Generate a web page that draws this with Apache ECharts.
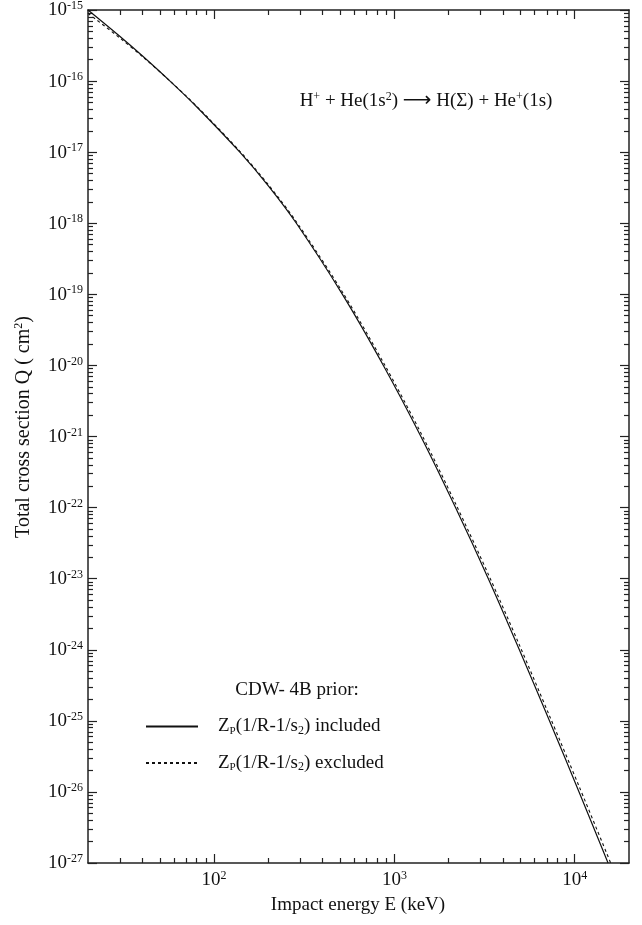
<!DOCTYPE html>
<html>
<head>
<meta charset="utf-8">
<script src="https://cdn.jsdelivr.net/npm/echarts@6/dist/echarts.min.js"></script>
<style>
html,body{margin:0;padding:0;background:#fff;}
#chart{width:642px;height:925px;}
</style>
</head>
<body>
<div id="chart"></div>
<script>
// ---- data ----
const xMajorTicks = [100, 1000, 10000];
const yMajorTicks = [1e-27, 1e-26, 1e-25, 1e-24, 1e-23, 1e-22, 1e-21, 1e-20, 1e-19, 1e-18, 1e-17, 1e-16, 1e-15];

// Z_P(1/R-1/s2) included (solid)
const solidE = [20, 30, 40, 57, 80, 139, 200, 286, 515, 869, 1403, 2183, 3319, 4932, 7244, 10570, 15310];
const solidQ = [1.0e-15, 4.27e-16, 2.27e-16, 1.0e-16, 4.36e-17, 1.0e-17, 3.36e-18, 1.0e-18, 1.0e-19, 1.0e-20, 1.0e-21, 1.0e-22, 1.0e-23, 1.0e-24, 1.0e-25, 1.0e-26, 1.0e-27];

// Z_P(1/R-1/s2) excluded (dotted)
const dashedE = [20, 30, 40, 57, 80, 139, 200, 286, 515, 869, 1403, 2183, 3319, 4932, 7244, 10570, 15830];
const dashedQ = [0.9e-15, 4.05e-16, 2.22e-16, 1.0e-16, 4.45e-17, 1.03e-17, 3.49e-18, 1.05e-18, 1.08e-19, 1.1e-20, 1.12e-21, 1.14e-22, 1.15e-23, 1.17e-24, 1.18e-25, 1.2e-26, 1.0e-27];

const seriesNames = ['included', 'excluded'];

// ---- derived ----
function minorOf(lo, hi) {
  const out = [];
  const start = Math.floor(Math.log10(lo) + 1e-9);
  const end = Math.ceil(Math.log10(hi) - 1e-9);
  for (let p = start; p < end; p++) {
    for (let m = 2; m <= 9; m++) {
      const v = m * Math.pow(10, p);
      if (v > lo * 1.0001 && v < hi * 0.9999) out.push(v);
    }
  }
  return out;
}
const X_MIN = 20, X_MAX = 20000, Y_MIN = 1e-27, Y_MAX = 1e-15;
const xMinorTicks = minorOf(X_MIN, X_MAX);
const yMinorTicks = minorOf(Y_MIN, Y_MAX);

const SERIF = 'Liberation Serif, Times New Roman, serif';
const FS = 19, FSS = 12;
const AX = '#222';
const powRich = {
  b: { fontFamily: SERIF, fontSize: FS, color: '#111', lineHeight: 20, verticalAlign: 'bottom' },
  s: { fontFamily: SERIF, fontSize: FSS, color: '#111', lineHeight: 13, verticalAlign: 'top' }
};
function powFmt(v) {
  const e = Math.round(Math.log10(v));
  return '{b|10}{s|' + e + '}';
}

function xAxisDef(pos, ticks, len, showLine, showLabel) {
  return {
    type: 'log', logBase: 10, min: X_MIN, max: X_MAX, position: pos, gridIndex: 0,
    axisLine: { show: showLine, onZero: false, lineStyle: { color: AX, width: 1.5 } },
    axisTick: { show: true, inside: true, length: len, customValues: ticks, lineStyle: { color: AX, width: 1.2 } },
    axisLabel: showLabel ? { show: true, customValues: ticks, formatter: powFmt, rich: powRich, margin: 7 } : { show: false },
    splitLine: { show: false }, minorTick: { show: false }
  };
}
function yAxisDef(pos, ticks, len, showLine, showLabel) {
  return {
    type: 'log', logBase: 10, min: Y_MIN, max: Y_MAX, position: pos, gridIndex: 0,
    axisLine: { show: showLine, onZero: false, lineStyle: { color: AX, width: 1.5 } },
    axisTick: { show: true, inside: true, length: len, customValues: ticks, lineStyle: { color: AX, width: 1.2 } },
    axisLabel: showLabel ? { show: true, customValues: ticks, formatter: powFmt, rich: powRich, margin: 5 } : { show: false },
    splitLine: { show: false }, minorTick: { show: false }
  };
}

const legendRich = {
  n: { fontFamily: SERIF, fontSize: FS, color: '#111', lineHeight: 20, verticalAlign: 'middle' },
  p: { fontFamily: SERIF, fontSize: 11, color: '#111', lineHeight: 13, verticalAlign: 'bottom' },
  sub: { fontFamily: SERIF, fontSize: FSS, color: '#111', lineHeight: 12, verticalAlign: 'bottom' }
};

const chart = echarts.init(document.getElementById('chart'), null, { renderer: 'canvas' });
chart.setOption({
  animation: false,
  backgroundColor: '#fff',
  grid: { left: 88, right: 13, top: 10, bottom: 62, containLabel: false },
  xAxis: [
    xAxisDef('bottom', xMajorTicks, 9, true, true),
    xAxisDef('bottom', xMinorTicks, 5, false, false),
    xAxisDef('top', xMajorTicks, 9, true, false),
    xAxisDef('top', xMinorTicks, 5, false, false)
  ],
  yAxis: [
    yAxisDef('left', yMajorTicks, 9, true, true),
    yAxisDef('left', yMinorTicks, 5, false, false),
    yAxisDef('right', yMajorTicks, 9, true, false),
    yAxisDef('right', yMinorTicks, 5, false, false)
  ],
  legend: {
    orient: 'vertical', left: 140, top: 712, itemGap: 17, itemWidth: 52, itemHeight: 14,
    data: seriesNames,
    itemStyle: { opacity: 0 },
    formatter: function (name) {
      return name === 'included'
        ? '{n|Z}{p|P}{n|(1/R-1/s}{sub|2}{n|) included}'
        : '{n|Z}{p|P}{n|(1/R-1/s}{sub|2}{n|) excluded}';
    },
    textStyle: { rich: legendRich, padding: [0, 0, 0, 15] }
  },
  graphic: [
    {
      type: 'text', x: 23, y: 427, rotation: Math.PI / 2,
      style: {
        text: '{n|Total cross section Q ( cm}{s|2}{n|)}',
        align: 'center', verticalAlign: 'middle',
        rich: {
          n: { fontFamily: SERIF, fontSize: 20, fill: '#111', lineHeight: 21, verticalAlign: 'bottom' },
          s: { fontFamily: SERIF, fontSize: FSS, fill: '#111', lineHeight: 13, verticalAlign: 'top' }
        }
      }
    },
    {
      type: 'text', x: 358, y: 905,
      style: { text: 'Impact energy E (keV)', font: FS + 'px ' + SERIF, fill: '#111', align: 'center', verticalAlign: 'middle' }
    },
    {
      type: 'text', x: 297, y: 690,
      style: { text: 'CDW- 4B prior:', font: FS + 'px ' + SERIF, fill: '#111', align: 'center', verticalAlign: 'middle' }
    },
    {
      type: 'text', x: 426, y: 101,
      style: {
        text: '{n|H}{s|+}{n| + He(1s}{s|2}{n|) }{a|⟶}{n| H(Σ) + He}{s|+}{n|(1s)}',
        align: 'center', verticalAlign: 'middle',
        rich: {
          n: { fontFamily: SERIF, fontSize: FS, fill: '#111', lineHeight: 20, verticalAlign: 'bottom' },
          s: { fontFamily: SERIF, fontSize: FSS, fill: '#111', lineHeight: 13, verticalAlign: 'top' },
          a: { fontFamily: 'DejaVu Sans', fontSize: 20, fill: '#111', lineHeight: 20, verticalAlign: 'bottom' }
        }
      }
    }
  ],
  series: [
    {
      name: seriesNames[0], type: 'line', xAxisIndex: 0, yAxisIndex: 0,
      data: solidE.map((e, i) => [e, solidQ[i]]),
      showSymbol: false, symbol: 'none', smooth: 0.3,
      lineStyle: { color: '#111', width: 1.2, type: 'solid' }, itemStyle: { color: '#111' }
    },
    {
      name: seriesNames[1], type: 'line', xAxisIndex: 0, yAxisIndex: 0,
      data: dashedE.map((e, i) => [e, dashedQ[i]]),
      showSymbol: false, symbol: 'none', smooth: 0.3,
      lineStyle: { color: '#111', width: 1.1, type: [3, 3] }, itemStyle: { color: '#111' }
    }
  ]
});
</script>
</body>
</html>
